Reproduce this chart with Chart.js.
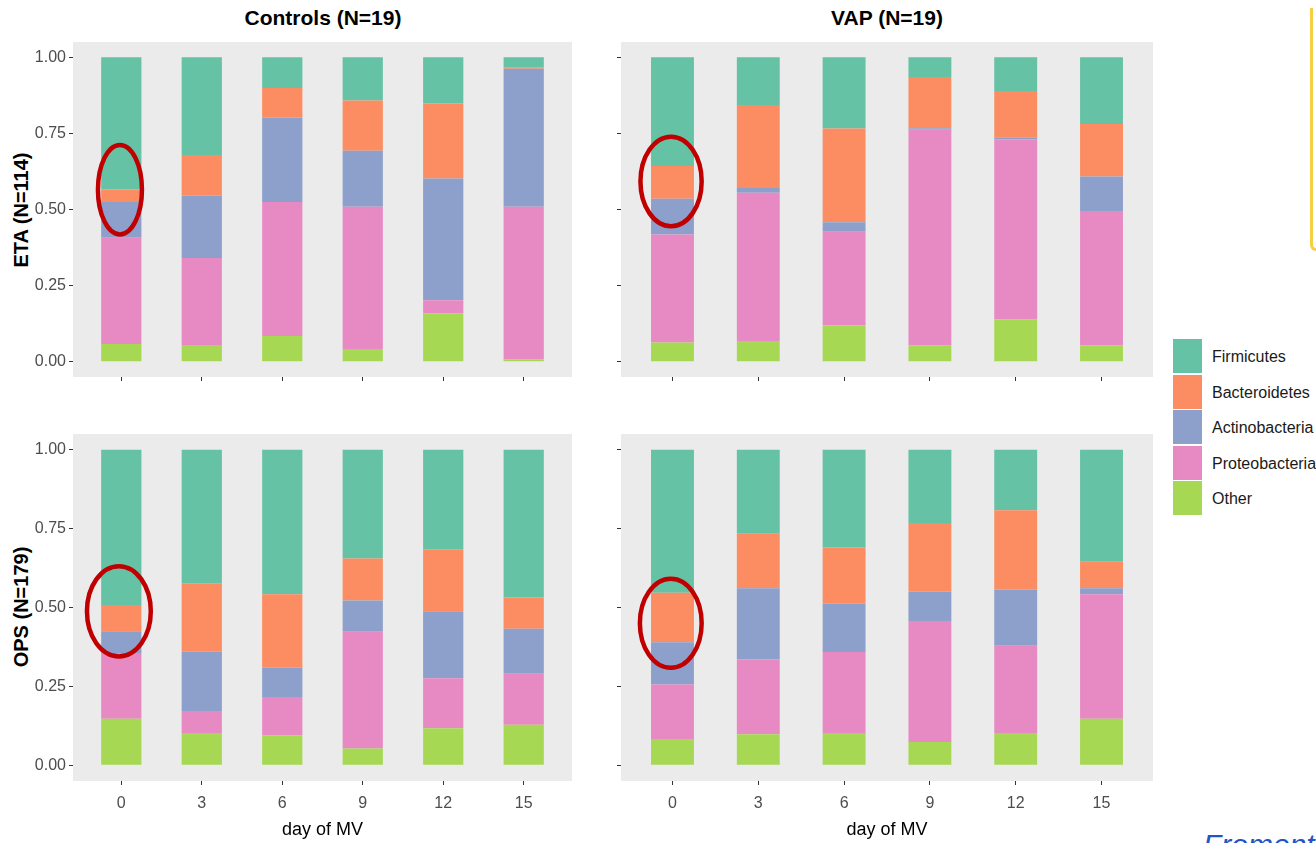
<!DOCTYPE html>
<html>
<head>
<meta charset="utf-8">
<title>Phyla by day of MV</title>
<script src="https://cdn.jsdelivr.net/npm/chart.js@4.4.1/dist/chart.umd.min.js"></script>
<style>
  body {
    margin: 0;
    width: 1316px;
    height: 843px;
    overflow: hidden;
    position: relative;
    background: #fff;
    font-family: "Liberation Sans", Arial, sans-serif;
  }
  canvas { position: absolute; }
  .col-title {
    position: absolute;
    top: 7px;
    width: 300px;
    text-align: center;
    font-weight: bold;
    font-size: 21px;
    line-height: 21px;
    color: #000;
  }
  .row-title {
    position: absolute;
    width: 200px;
    height: 20px;
    text-align: center;
    font-weight: bold;
    font-size: 20px;
    line-height: 20px;
    color: #000;
    transform: rotate(-90deg);
  }
  .legend-item {
    position: absolute;
    left: 1173px;
    height: 36px;
  }
  .legend-item .key {
    position: absolute;
    left: 0;
    top: 0;
    width: 29px;
    height: 34px;
  }
  .legend-item .name {
    position: absolute;
    left: 39px;
    top: 0;
    line-height: 35px;
    font-size: 16px;
    color: #1a1a1a;
    white-space: nowrap;
  }
  .note-box {
    position: absolute;
    left: 1310px;
    top: 8px;
    width: 60px;
    height: 240px;
    border-left: 3px solid #f6cf47;
    border-bottom: 3px solid #f6cf47;
    border-radius: 0 0 0 6px;
  }
  .cite {
    position: absolute;
    left: 1203px;
    top: 830px;
    font-size: 30px;
    line-height: 30px;
    font-style: italic;
    color: #2454c4;
    white-space: nowrap;
  }
</style>
</head>
<body>

<div class="col-title" style="left:173px">Controls (N=19)</div>
<div class="col-title" style="left:737px">VAP (N=19)</div>
<div class="row-title" style="left:-79px; top:200px">ETA (N=114)</div>
<div class="row-title" style="left:-79px; top:597px">OPS (N=179)</div>

<canvas id="ctrlEta" width="572" height="345" style="left:0px; top:42px"></canvas>
<canvas id="vapEta" width="542" height="345" style="left:611px; top:42px"></canvas>
<canvas id="ctrlOps" width="572" height="409" style="left:0px; top:434px"></canvas>
<canvas id="vapOps" width="542" height="409" style="left:611px; top:434px"></canvas>

<div id="legend"></div>
<div class="note-box"></div>
<div class="cite">Froment</div>

<script>
// categories and labels
const days = [0, 3, 6, 9, 12, 15];
const yTicks = [0, 0.25, 0.5, 0.75, 1];
const phyla = ["Firmicutes", "Bacteroidetes", "Actinobacteria", "Proteobacteria", "Other"];
const phylaColors = ["#66c2a5", "#fc8d62", "#8da0cb", "#e78ac3", "#a6d854"];

// Controls, ETA
const ctrlEtaFirmi   = [0.434, 0.321, 0.101, 0.142, 0.152, 0.033];
const ctrlEtaBactero = [0.041, 0.133, 0.097, 0.165, 0.246, 0.005];
const ctrlEtaActino  = [0.118, 0.205, 0.277, 0.184, 0.400, 0.453];
const ctrlEtaProteo  = [0.349, 0.288, 0.440, 0.467, 0.043, 0.501];
const ctrlEtaOther   = [0.058, 0.053, 0.085, 0.042, 0.159, 0.008];

// VAP, ETA
const vapEtaFirmi   = [0.357, 0.157, 0.234, 0.065, 0.111, 0.219];
const vapEtaBactero = [0.108, 0.272, 0.308, 0.168, 0.153, 0.173];
const vapEtaActino  = [0.117, 0.016, 0.031, 0.005, 0.006, 0.113];
const vapEtaProteo  = [0.355, 0.487, 0.307, 0.708, 0.590, 0.441];
const vapEtaOther   = [0.063, 0.068, 0.120, 0.054, 0.140, 0.054];

// Controls, OPS
const ctrlOpsFirmi   = [0.492, 0.423, 0.458, 0.345, 0.315, 0.468];
const ctrlOpsBactero = [0.083, 0.217, 0.232, 0.133, 0.197, 0.099];
const ctrlOpsActino  = [0.069, 0.188, 0.094, 0.099, 0.212, 0.143];
const ctrlOpsProteo  = [0.209, 0.070, 0.122, 0.370, 0.159, 0.162];
const ctrlOpsOther   = [0.147, 0.102, 0.094, 0.053, 0.117, 0.128];

// VAP, OPS
const vapOpsFirmi   = [0.453, 0.266, 0.310, 0.232, 0.192, 0.355];
const vapOpsBactero = [0.157, 0.173, 0.177, 0.217, 0.251, 0.084];
const vapOpsActino  = [0.134, 0.226, 0.154, 0.094, 0.178, 0.019];
const vapOpsProteo  = [0.173, 0.237, 0.257, 0.383, 0.277, 0.395];
const vapOpsOther   = [0.083, 0.098, 0.102, 0.074, 0.102, 0.147];

const tickFont = { family: "'Liberation Sans', Arial, sans-serif", size: 16 };

// grey panel behind the bars
const panelBg = {
  id: "panelBg",
  beforeDraw(chart) {
    const { ctx, chartArea: a } = chart;
    ctx.save();
    ctx.fillStyle = "#ebebeb";
    ctx.fillRect(a.left, a.top, a.right - a.left, a.bottom - a.top);
    ctx.restore();
  },
};

// red ring drawn round the day-0 bar (annotation from the slide)
function ringPlugin(ring) {
  return {
    id: "ring",
    afterDatasetsDraw(chart) {
      const { ctx, scales: { x, y } } = chart;
      const cx = x.getPixelForValue(ring.x);
      const cy = y.getPixelForValue(ring.y);
      const rx = Math.abs(x.getPixelForValue(ring.rx) - x.getPixelForValue(0));
      const ry = Math.abs(y.getPixelForValue(ring.ry) - y.getPixelForValue(0));
      ctx.save();
      ctx.beginPath();
      ctx.ellipse(cx, cy, rx, ry, 0, 0, Math.PI * 2);
      ctx.lineWidth = 4.5;
      ctx.strokeStyle = "#c00000";
      ctx.stroke();
      ctx.restore();
    },
  };
}

function makePanel(p) {
  // stacked bottom-up: Other, Proteobacteria, Actinobacteria, Bacteroidetes, Firmicutes
  const order = [4, 3, 2, 1, 0];
  const datasets = order.map((k) => ({
    label: phyla[k],
    data: days.map((d, i) => ({ x: d, y: p.series[k][i] })),
    backgroundColor: phylaColors[k],
    borderWidth: 0,
    barPercentage: 0.5,
    categoryPercentage: 1,
  }));

  new Chart(document.getElementById(p.id), {
    type: "bar",
    data: { datasets },
    options: {
      responsive: false,
      animation: false,
      devicePixelRatio: 1,
      layout: { padding: 0 },
      plugins: { legend: { display: false }, tooltip: { enabled: false } },
      scales: {
        x: {
          type: "linear",
          stacked: true,
          offset: false,
          min: -1.8,
          max: 16.8,
          afterBuildTicks: (s) => { s.ticks = days.map((v) => ({ value: v })); },
          afterFit: (s) => { s.height = p.xH; s.paddingLeft = 0; s.paddingRight = 0; },
          border: { display: false },
          grid: { offset: false, drawOnChartArea: false, drawTicks: true, tickLength: 4, tickColor: "#333", tickWidth: 1 },
          ticks: {
            display: p.showX,
            autoSkip: false,
            maxRotation: 0,
            padding: 9,
            font: tickFont,
            color: "#4d4d4d",
            callback: (v) => String(v),
          },
          title: {
            display: p.showX,
            text: "day of MV",
            color: "#000",
            font: { family: "'Liberation Sans', Arial, sans-serif", size: 18 },
            padding: { top: 0, bottom: 2 },
          },
        },
        y: {
          stacked: true,
          min: -0.05,
          max: 1.05,
          afterBuildTicks: (s) => { s.ticks = yTicks.map((v) => ({ value: v })); },
          afterFit: (s) => { s.width = p.yW; s.paddingTop = 0; s.paddingBottom = 0; },
          border: { display: false },
          grid: { drawOnChartArea: false, drawTicks: true, tickLength: 4, tickColor: "#333", tickWidth: 1 },
          ticks: {
            autoSkip: false,
            padding: 3,
            font: tickFont,
            color: "#4d4d4d",
            callback: (v) => (p.showY ? v.toFixed(2) : ""),
          },
        },
      },
    },
    plugins: [panelBg, ringPlugin(p.ring)],
  });
}

const panels = [
  {
    id: "ctrlEta", yW: 73, xH: 10, showY: true, showX: false,
    series: [ctrlEtaFirmi, ctrlEtaBactero, ctrlEtaActino, ctrlEtaProteo, ctrlEtaOther],
    ring: { x: -0.05, y: 0.565, rx: 0.82, ry: 0.147 },
  },
  {
    id: "vapEta", yW: 10, xH: 10, showY: false, showX: false,
    series: [vapEtaFirmi, vapEtaBactero, vapEtaActino, vapEtaProteo, vapEtaOther],
    ring: { x: -0.05, y: 0.592, rx: 1.07, ry: 0.147 },
  },
  {
    id: "ctrlOps", yW: 73, xH: 62, showY: true, showX: true,
    series: [ctrlOpsFirmi, ctrlOpsBactero, ctrlOpsActino, ctrlOpsProteo, ctrlOpsOther],
    ring: { x: -0.09, y: 0.488, rx: 1.19, ry: 0.143 },
  },
  {
    id: "vapOps", yW: 10, xH: 62, showY: false, showX: true,
    series: [vapOpsFirmi, vapOpsBactero, vapOpsActino, vapOpsProteo, vapOpsOther],
    ring: { x: -0.06, y: 0.45, rx: 1.08, ry: 0.141 },
  },
];

panels.forEach(makePanel);

// legend (Firmicutes on top, as in the figure)
const legend = document.getElementById("legend");
phyla.forEach((name, i) => {
  const item = document.createElement("div");
  item.className = "legend-item";
  item.style.top = 339 + i * 35.6 + "px";
  item.innerHTML = `<div class="key" style="background:${phylaColors[i]}"></div><div class="name">${name}</div>`;
  legend.appendChild(item);
});
</script>
</body>
</html>
